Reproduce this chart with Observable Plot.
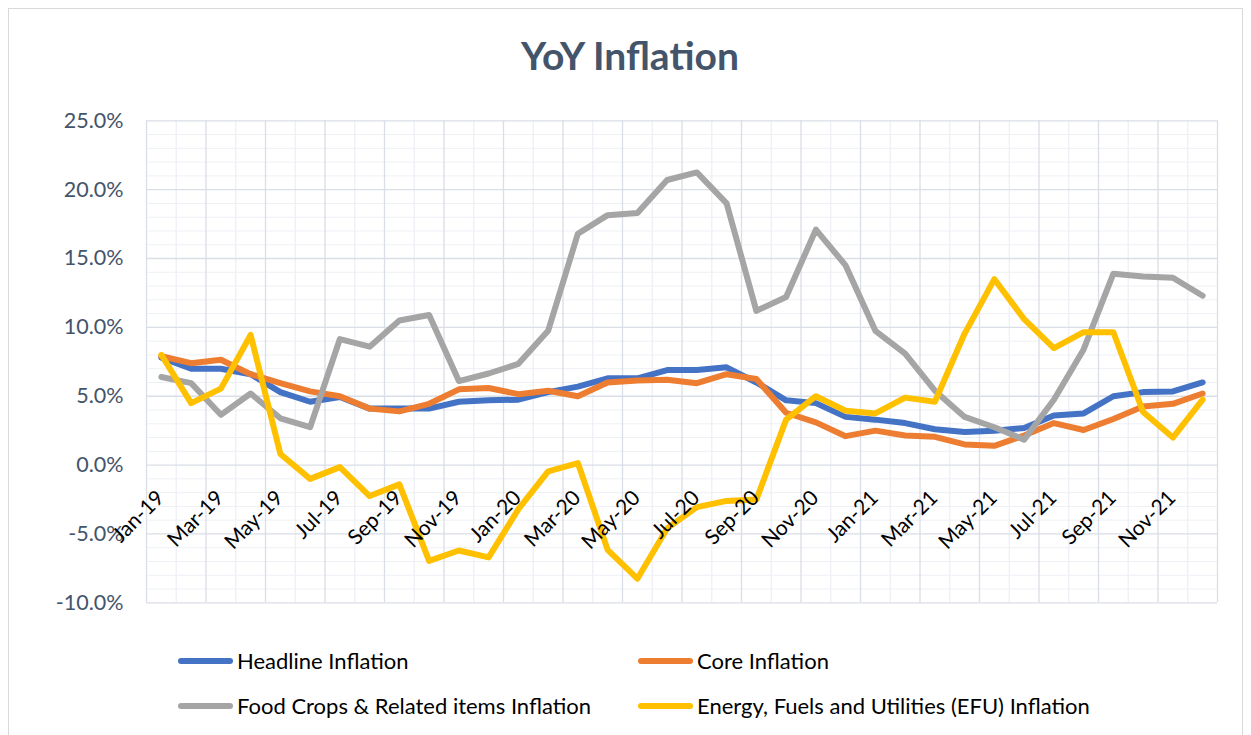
<!DOCTYPE html>
<html>
<head>
<meta charset="utf-8">
<script src="https://cdn.jsdelivr.net/npm/d3@7"></script>
<script src="https://cdn.jsdelivr.net/npm/@observablehq/plot@0.6"></script>
<style>
  body { margin: 0; background: #fff; font-family: Lato, "Open Sans", sans-serif; }
  #wrap { position: relative; width: 1251px; height: 735px; overflow: hidden; }
  #frame { position: absolute; left: 8px; top: 8px; width: 1235px; height: 760px; border: 1px solid #d9d9d9; box-sizing: border-box; }
  #title { position: absolute; left: 0; width: 1260px; top: 31px; text-align: center; font-size: 39px; font-weight: 700; color: #44546a; line-height: 48px; }
  #plot { position: absolute; left: 0; top: 100px; }
  .leg { position: absolute; display: flex; align-items: center; font-size: 22px; color: #000; line-height: 26px; }
  .sw { display: inline-block; width: 55px; height: 6px; border-radius: 3px; margin-right: 4px; }
</style>
</head>
<body>
<div id="wrap">
  <div id="frame"></div>
  <div id="title">YoY Inflation</div>
  <div id="plot"></div>
  <div id="legend"></div>
</div>
<script>
const months = ["Jan-19","Feb-19","Mar-19","Apr-19","May-19","Jun-19","Jul-19","Aug-19","Sep-19","Oct-19","Nov-19","Dec-19",
                "Jan-20","Feb-20","Mar-20","Apr-20","May-20","Jun-20","Jul-20","Aug-20","Sep-20","Oct-20","Nov-20","Dec-20",
                "Jan-21","Feb-21","Mar-21","Apr-21","May-21","Jun-21","Jul-21","Aug-21","Sep-21","Oct-21","Nov-21","Dec-21"];
const headline = [7.8,7.0,7.0,6.6,5.3,4.6,4.95,4.1,4.1,4.1,4.6,4.7, 4.75,5.3,5.7,6.3,6.3,6.9,6.9,7.1,6.0,4.7,4.5,3.5, 3.3,3.05,2.6,2.4,2.5,2.7,3.6,3.75,5.0,5.3,5.35,6.0];
const core     = [7.9,7.4,7.65,6.6,5.95,5.35,5.0,4.1,3.9,4.45,5.5,5.6, 5.15,5.4,5.0,6.0,6.15,6.2,5.95,6.6,6.25,3.8,3.1,2.1, 2.5,2.15,2.05,1.5,1.4,2.15,3.05,2.55,3.35,4.25,4.45,5.2];
const food     = [6.4,5.95,3.65,5.2,3.4,2.75,9.15,8.6,10.5,10.9,6.1,6.65, 7.35,9.75,16.8,18.15,18.3,20.7,21.25,19.0,11.2,12.2,17.1,14.5, 9.75,8.1,5.4,3.5,2.75,1.85,4.75,8.4,13.9,13.7,13.6,12.3];
const efu      = [8.0,4.5,5.55,9.45,0.8,-1.0,-0.15,-2.25,-1.4,-6.95,-6.2,-6.7, -3.2,-0.45,0.15,-6.15,-8.25,-4.6,-3.05,-2.6,-2.5,3.3,5.0,3.95, 3.75,4.9,4.6,9.55,13.5,10.6,8.5,9.65,9.65,3.85,2.0,4.75];
const seriesNames = ["Headline Inflation","Core Inflation","Food Crops & Related items Inflation","Energy, Fuels and Utilities (EFU) Inflation"];
const seriesColors = ["#4472c4","#ed7d31","#a5a5a5","#ffc000"];
const yTicks = [-10,-5,0,5,10,15,20,25];

const seriesValues = [headline, core, food, efu];
const n = months.length;
const boundaries = d3.range(0, n + 1).map(i => i - 0.5);
const majorX = boundaries.filter((b, k) => k % 2 === 0);
const minorX = boundaries.filter((b, k) => k % 2 === 1);
const minorY = d3.range(-10, 26).filter(v => v % 5 !== 0);
const labelIdx = d3.range(0, n, 2);

const lineMarks = seriesValues.map((vals, s) =>
  Plot.line(vals.map((v, i) => ({i, v})), {
    x: "i", y: "v", stroke: seriesColors[s], strokeWidth: 6,
    strokeLinejoin: "round", strokeLinecap: "round", curve: "linear"
  })
);

const chart = Plot.plot({
  width: 1251,
  height: 540,
  marginLeft: 146,
  marginRight: 34,
  marginTop: 20.3,
  marginBottom: 37.7,
  style: { background: "transparent", fontFamily: "Lato, 'Open Sans', sans-serif" },
  x: { type: "linear", domain: [-0.5, n - 0.5], axis: null },
  y: { domain: [-10, 25], axis: null },
  marks: [
    Plot.ruleY(minorY, { stroke: "#eef0f5", strokeWidth: 1 }),
    Plot.ruleX(minorX, { stroke: "#eef0f5", strokeWidth: 1.3 }),
    Plot.ruleY(yTicks, { stroke: "#dadee7", strokeWidth: 1.3 }),
    Plot.ruleX(majorX, { stroke: "#dadee7", strokeWidth: 1.3 }),
    ...lineMarks,
    Plot.text(yTicks, {
      x: -0.5, y: d => d, text: d => d.toFixed(1) + "%",
      textAnchor: "end", dx: -23, fontSize: 21.5, fill: "#44546a"
    }),
    Plot.text(labelIdx, {
      x: d => d, y: 0, text: d => months[d],
      rotate: -45, textAnchor: "end", lineAnchor: "bottom",
      dx: 4, dy: 34, fontSize: 21, fill: "#000"
    })
  ]
});
document.getElementById("plot").appendChild(chart);

// legend
const legend = document.getElementById("legend");
const legendPos = [[178, 661], [638, 661], [178, 706], [638, 706]];
seriesNames.forEach((name, s) => {
  const item = document.createElement("div");
  item.className = "leg";
  item.style.left = legendPos[s][0] + "px";
  item.style.top = (legendPos[s][1] - 13) + "px";
  const sw = document.createElement("span");
  sw.className = "sw";
  sw.style.background = seriesColors[s];
  item.appendChild(sw);
  item.appendChild(document.createTextNode(name));
  legend.appendChild(item);
});
</script>
</body>
</html>
